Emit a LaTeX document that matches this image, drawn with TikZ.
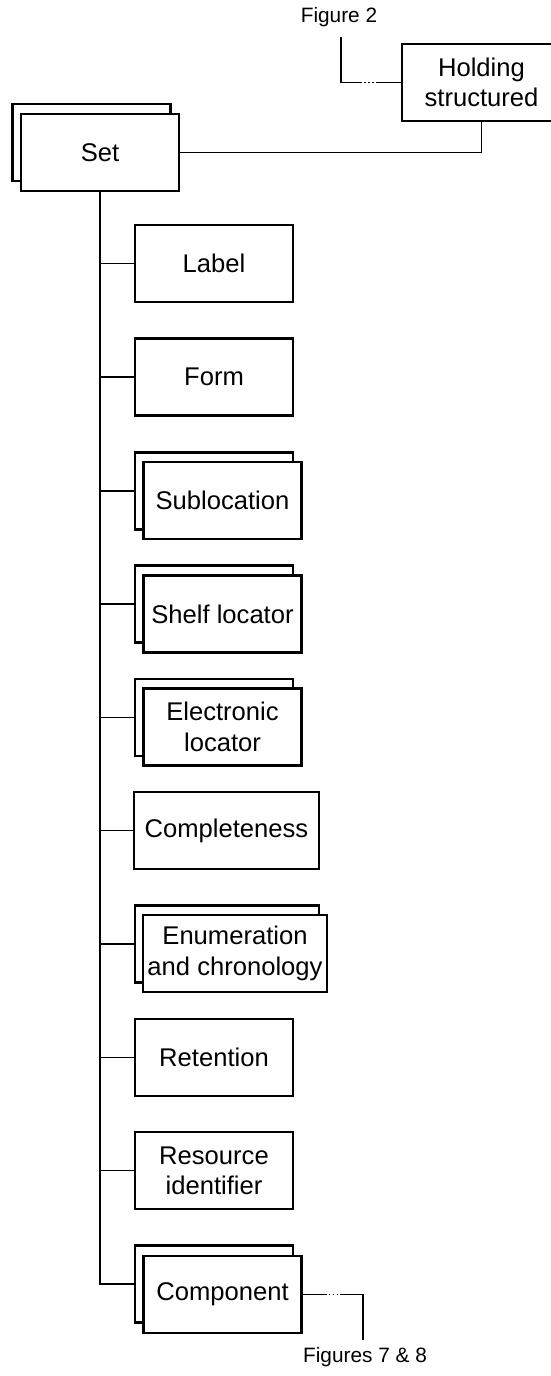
\documentclass[tikz,border=0pt]{standalone}
\usepackage{fontspec}
\setmainfont{Liberation Sans}
\begin{document}
\begin{tikzpicture}[x=1pt,y=-1pt,
  box/.style={draw, line width=2.2pt, fill=white, minimum width=158pt,
    minimum height=77pt, inner sep=0pt, align=center,
    font=\fontsize{25.6}{30.5}\selectfont},
  widebox/.style={box, minimum width=184pt},
  conn/.style={line width=1.3pt},
  refline/.style={conn, dash pattern=on #1 off 2pt on 1.5pt off 2.5pt on 1.5pt off 2.5pt on 1.5pt off 2pt on 400pt},
  reftext/.style={inner sep=0pt, font=\fontsize{20.8}{24}\selectfont}]

\useasboundingbox (0,0) rectangle (551,1376);
\clip (0,0) rectangle (551,1376);

% parent entity and its container
\node[box, minimum width=159pt] (hold) at (481.5,82.4) {Holding\\structured};
\node[box] (set-b) at (91.5,142.5) {};
\node[box] (set) at (100,152.5) {Set};

% child elements (stacked boxes are repeatable)
\node[box] (label) at (214,263.5) {Label};
\node[box] (form) at (214,377) {Form};
\node[box] (subloc-b) at (214,491) {};
\node[box] (subloc) at (222.5,500.5) {Sublocation};
\node[box] (shelf-b) at (214,604) {};
\node[box] (shelf) at (222.5,614) {Shelf locator};
\node[box] (elec-b) at (214,717.5) {};
\node[box] (elec) at (222.5,727) {Electronic\\locator};
\node[widebox, minimum width=185pt] (compl) at (226.5,830.7) {Completeness};
\node[widebox] (enum-b) at (227,944) {};
\node[widebox] (enum) at (235,953.5) {Enumeration\\and chronology};
\node[box] (ret) at (214,1057.5) {Retention};
\node[box] (res) at (214,1170.7) {Resource\\identifier};
\node[box] (comp-b) at (214,1284) {};
\node[box] (comp) at (222.5,1294.3) {Component};

% cross references
\node[reftext] (fig2) at (339,17) {Figure 2};
\node[reftext] (fig78) at (365,1357) {Figures 7 \& 8};
\coordinate (f2top) at (341,37);
\coordinate (f78top) at (363,1340);

% connectors
\draw[conn] (set.east) -| (hold.south);
\draw[refline=25pt] (hold.west) -| (f2top);
\draw[refline=24pt] (comp.east) -| (f78top);
\draw[conn] (set.south) |- (comp-b.west);
\foreach \n in {label,form,subloc-b,shelf-b,elec-b,compl,enum-b,ret,res}
  \draw[conn] (set.south |- \n.west) -- (\n.west);
\end{tikzpicture}
\end{document}
